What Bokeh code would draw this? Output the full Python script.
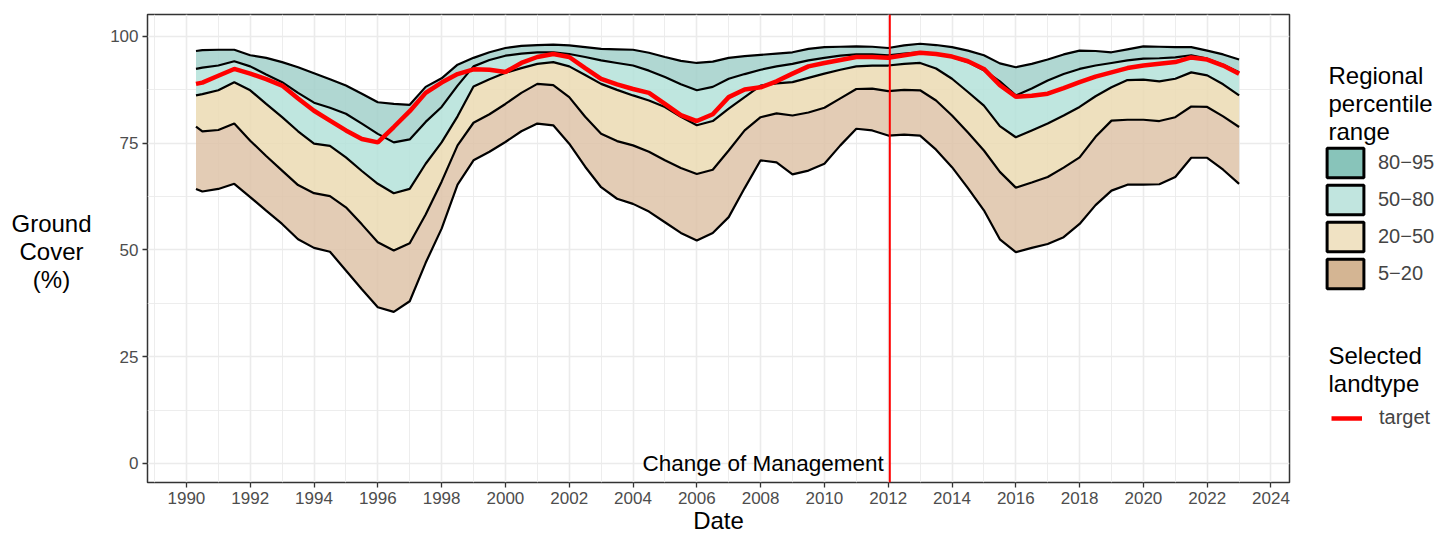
from bokeh.plotting import figure
from bokeh.layouts import row
from bokeh.models import Range1d, FixedTicker, Span, Label, Legend, LegendItem
from bokeh.embed import file_html
from bokeh.resources import INLINE

# ---------------- data ----------------
years = [1990.3, 1990.5, 1991.0, 1991.5, 1992.0, 1992.5, 1993.0, 1993.5, 1994.0, 1994.5,
         1995.0, 1995.5, 1996.0, 1996.5, 1997.0, 1997.5, 1998.0, 1998.5, 1999.0, 1999.5,
         2000.0, 2000.5, 2001.0, 2001.5, 2002.0, 2002.5, 2003.0, 2003.5, 2004.0, 2004.5,
         2005.0, 2005.5, 2006.0, 2006.5, 2007.0, 2007.5, 2008.0, 2008.5, 2009.0, 2009.5,
         2010.0, 2010.5, 2011.0, 2011.5, 2012.0, 2012.5, 2013.0, 2013.5, 2014.0, 2014.5,
         2015.0, 2015.5, 2016.0, 2016.5, 2017.0, 2017.5, 2018.0, 2018.5, 2019.0, 2019.5,
         2020.0, 2020.5, 2021.0, 2021.5, 2022.0, 2022.5, 2023.0]

p05 = [64.3, 63.7, 64.3, 65.5, 62.4, 59.2, 56.1, 52.5, 50.5, 49.6,
       45.2, 40.8, 36.6, 35.5, 38.0, 47.0, 55.0, 65.3, 71.0, 73.0,
       75.3, 77.8, 79.6, 79.2, 74.9, 69.5, 64.7, 62.0, 60.8, 59.0,
       56.5, 54.0, 52.2, 54.0, 57.7, 64.5, 71.0, 70.5, 67.7, 68.6,
       70.2, 74.5, 78.4, 78.0, 76.8, 77.0, 76.8, 73.5, 69.4, 64.5,
       59.3, 52.5, 49.5, 50.5, 51.4, 53.0, 56.1, 60.5, 63.9, 65.3,
       65.3, 65.4, 67.1, 71.6, 71.6, 68.8, 65.5]

p20 = [78.9, 77.8, 78.1, 79.6, 75.6, 72.0, 68.6, 65.2, 63.3, 62.6,
       60.0, 56.0, 51.8, 49.9, 51.6, 58.3, 66.0, 74.5, 79.8, 81.8,
       84.2, 86.8, 88.9, 88.6, 85.8, 81.2, 77.2, 75.5, 74.5, 73.0,
       71.0, 69.2, 67.8, 68.8, 73.3, 78.0, 81.1, 82.0, 81.5, 82.2,
       83.3, 85.5, 87.7, 87.8, 87.2, 87.5, 87.4, 85.0, 81.5, 77.5,
       73.3, 68.3, 64.6, 65.8, 67.1, 69.3, 71.7, 76.5, 80.3, 80.5,
       80.5, 80.2, 81.1, 83.6, 83.5, 81.3, 78.8]

p50 = [86.2, 86.5, 87.4, 89.3, 87.4, 84.2, 81.1, 77.8, 74.9, 74.4,
       71.7, 68.5, 65.5, 63.3, 64.3, 70.2, 75.2, 81.3, 88.3, 90.0,
       91.5, 92.6, 93.6, 94.0, 93.0, 91.0, 88.9, 87.5, 86.2, 85.0,
       83.5, 81.2, 79.2, 80.2, 83.1, 85.8, 88.5, 89.0, 89.3, 90.3,
       91.3, 92.2, 93.0, 93.2, 93.2, 93.6, 93.8, 92.5, 90.1, 87.0,
       83.8, 79.0, 76.4, 78.0, 79.6, 81.5, 83.5, 86.0, 88.1, 89.8,
       89.9, 89.5, 90.1, 91.6, 90.9, 88.8, 86.2]

p80 = [92.4, 92.7, 93.2, 94.2, 93.0, 91.1, 89.3, 86.8, 84.5, 83.3,
       81.9, 79.6, 77.2, 75.2, 75.9, 80.0, 83.5, 88.5, 93.0, 94.5,
       95.5, 96.0, 96.3, 96.3, 95.9, 95.2, 94.4, 93.8, 93.2, 92.0,
       90.5, 88.8, 87.4, 88.2, 90.1, 91.2, 92.2, 93.0, 93.6, 94.4,
       95.0, 95.5, 95.8, 95.8, 95.6, 96.0, 96.3, 96.0, 95.2, 94.0,
       92.1, 89.5, 86.2, 87.8, 89.7, 91.2, 92.4, 93.2, 93.8, 94.4,
       94.8, 94.9, 95.1, 95.6, 94.8, 93.4, 91.6]

p95 = [96.6, 96.8, 96.9, 96.9, 95.6, 95.0, 94.0, 92.8, 91.4, 90.0,
       88.5, 86.6, 84.6, 84.2, 84.0, 88.2, 90.2, 93.4, 95.0, 96.3,
       97.3, 97.8, 98.0, 98.1, 97.9, 97.5, 97.1, 97.0, 96.9, 96.2,
       95.2, 94.3, 93.8, 94.1, 95.0, 95.4, 95.7, 96.0, 96.3, 97.1,
       97.5, 97.6, 97.7, 97.6, 97.3, 97.9, 98.3, 98.0, 97.5, 96.7,
       95.6, 93.7, 92.8, 93.6, 94.6, 95.8, 96.7, 96.6, 96.3, 97.0,
       97.7, 97.6, 97.5, 97.5, 96.7, 95.8, 94.6]

target = [88.9, 89.2, 90.8, 92.4, 91.3, 90.0, 88.5, 85.5, 82.6, 80.3,
          78.0, 76.0, 75.2, 78.8, 82.5, 86.8, 89.2, 91.2, 92.3, 92.2,
          91.7, 93.8, 95.2, 95.9, 95.2, 92.6, 90.1, 88.8, 87.7, 86.8,
          84.2, 81.6, 80.2, 81.8, 85.8, 87.6, 88.1, 89.5, 91.3, 93.0,
          93.8, 94.5, 95.2, 95.2, 95.0, 95.6, 96.2, 95.9, 95.3, 94.2,
          92.4, 88.6, 85.9, 86.1, 86.6, 87.9, 89.3, 90.6, 91.6, 92.6,
          93.2, 93.6, 94.0, 95.1, 94.6, 93.2, 91.3]

band_labels = ["80\u221295", "50\u221280", "20\u221250", "5\u221220"]
band_fill = ["#A2D0CA", "#B4E2D9", "#EBDBB3", "#DEC3A8"]      # ribbons (drawn with alpha)
key_fill = ["#88C4BA", "#C1E5DF", "#F0E2C3", "#D4B593"]       # legend keys
change_year = 2012.05
change_text = "Change of Management"
x_ticks = list(range(1990, 2025, 2))
y_ticks = [0, 25, 50, 75, 100]
y_title = "Ground\nCover\n(%)"
x_title = "Date"

FONT = "Liberation Sans"
H = 538
NAN = float("nan")

# ---------------- y-title panel ----------------
py = figure(width=100, height=H, output_backend="svg", toolbar_location=None, title=None,
            x_range=Range1d(0, 100), y_range=Range1d(56, 524), x_axis_type=None, y_axis_type=None,
            min_border=0)
py.outline_line_color = None
py.grid.visible = False
py.add_layout(Label(x=51, y=287, text=y_title, text_align="center", text_baseline="middle",
                    text_font=FONT, text_font_size="24px", text_line_height=1.05,
                    text_color="black"))

# ---------------- main figure ----------------
p = figure(width=1191, height=H, output_backend="svg", toolbar_location=None,
           title=None, x_range=Range1d(1988.78, 2024.58), y_range=Range1d(-4.45, 105.15),
           min_border_left=47, min_border_right=2, min_border_top=14, min_border_bottom=56)

p.background_fill_color = "white"
p.border_fill_color = "white"
p.outline_line_color = "#333333"
p.outline_line_width = 1.5

p.xaxis.ticker = FixedTicker(ticks=x_ticks, minor_ticks=list(range(1989, 2026, 2)))
p.yaxis.ticker = FixedTicker(ticks=y_ticks, minor_ticks=[-12.5, 12.5, 37.5, 62.5, 87.5, 112.5])

for g in (p.xgrid, p.ygrid):
    g.grid_line_color = "#EBEBEB"
    g.grid_line_width = 1.6
    g.minor_grid_line_color = "#EBEBEB"
    g.minor_grid_line_width = 0.9

for ax in (p.xaxis, p.yaxis):
    ax.axis_line_color = None
    ax.major_tick_line_color = "#333333"
    ax.major_tick_line_width = 1.3
    ax.major_tick_out = 5
    ax.major_tick_in = 0
    ax.minor_tick_out = 0
    ax.minor_tick_in = 0
    ax.major_label_text_font = FONT
    ax.major_label_text_font_size = "17px"
    ax.major_label_text_color = "#4D4D4D"
    ax.axis_label_text_font = FONT
    ax.axis_label_text_font_size = "24px"
    ax.axis_label_text_font_style = "normal"
    ax.axis_label_text_color = "black"

p.xaxis.axis_label = x_title
p.xaxis.axis_label_standoff = 0
p.xaxis.major_label_standoff = 4
p.yaxis.major_label_standoff = 4

# ribbons between percentile lines
lows = [p80, p50, p20, p05]
highs = [p95, p80, p50, p20]
for lo, hi, col in zip(lows, highs, band_fill):
    p.varea(x=years, y1=lo, y2=hi, fill_color=col, fill_alpha=0.85)

for s in (p05, p20, p50, p80, p95):
    p.line(years, s, line_color="black", line_width=2.2)

p.line(years, target, line_color="#FF0000", line_width=4.5)

p.add_layout(Span(location=change_year, dimension="height", line_color="#FF0000", line_width=2))
p.add_layout(Label(x=change_year, y=0, x_offset=-6, text=change_text, text_align="right",
                   text_baseline="middle", text_font=FONT, text_font_size="22.5px",
                   text_color="black"))

# ---------------- legend panel ----------------
pl = figure(width=147, height=H, output_backend="svg", toolbar_location=None, title=None,
            x_range=Range1d(0, 147), y_range=Range1d(56, 524), x_axis_type=None, y_axis_type=None,
            min_border=0)
pl.outline_line_color = None
pl.grid.visible = False
pl.background_fill_color = "white"
pl.border_fill_color = "white"

items = []
for lab, col in zip(band_labels, key_fill):
    r = pl.rect(x=[NAN], y=[NAN], width=1, height=1, fill_color=col, line_color="black",
                line_width=3)
    items.append(LegendItem(label=lab, renderers=[r]))
red_proxy = pl.line(x=[NAN, NAN], y=[NAN, NAN], line_color="#FF0000", line_width=4.5)

leg1 = Legend(items=items, location=(31, 190.5), orientation="vertical",
              glyph_width=46, glyph_height=37, spacing=0, padding=0, margin=0,
              label_standoff=10, label_text_font=FONT, label_text_font_size="20px",
              border_line_color=None, background_fill_alpha=0)
leg2 = Legend(items=[LegendItem(label="target", renderers=[red_proxy])], location=(40, 53),
              glyph_width=31, glyph_height=20, spacing=0, padding=0, margin=0,
              label_standoff=17, label_text_font=FONT, label_text_font_size="20px",
              border_line_color=None, background_fill_alpha=0)
pl.add_layout(leg1)
pl.add_layout(leg2)

pl.add_layout(Label(x=37, y=477, text="Regional\npercentile\nrange", text_baseline="top",
                    text_align="left", text_font=FONT, text_font_size="24px",
                    text_line_height=1.05, text_color="black"))
pl.add_layout(Label(x=37, y=197, text="Selected\nlandtype", text_baseline="top",
                    text_align="left", text_font=FONT, text_font_size="24px",
                    text_line_height=1.05, text_color="black"))

layout = row(py, p, pl)
open("out.html", "w").write(file_html(layout, INLINE))
